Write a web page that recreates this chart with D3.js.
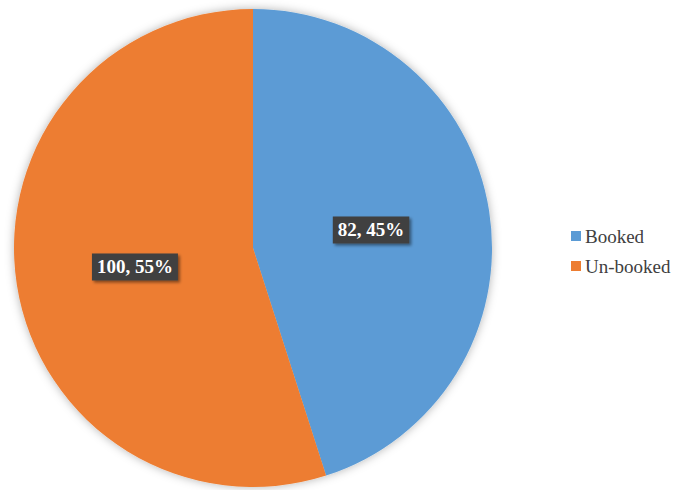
<!DOCTYPE html>
<html>
<head>
<meta charset="utf-8">
<script src="https://cdn.jsdelivr.net/npm/d3@7"></script>
<style>
  body { margin: 0; background: #fff; }
  svg { display: block; }
  text { font-family: "Liberation Serif", serif; }
</style>
</head>
<body>
<svg id="chart" width="676" height="490"></svg>
<script>
let categories = ["Booked", "Un-booked"];
let values = [82, 100];
let colors = ["#5B9BD5", "#ED7D31"];

let svg = d3.select("#chart");
let cx = 253, cy = 248, radius = 239;

let defs = svg.append("defs");
defs.append("filter").attr("id", "pieShadow")
    .attr("x", "-10%").attr("y", "-10%").attr("width", "120%").attr("height", "120%")
    .append("feDropShadow")
    .attr("dx", 0).attr("dy", 0).attr("stdDeviation", 5)
    .attr("flood-color", "#000").attr("flood-opacity", 0.3);
defs.append("filter").attr("id", "boxShadow")
    .attr("x", "-20%").attr("y", "-30%").attr("width", "150%").attr("height", "180%")
    .append("feDropShadow")
    .attr("dx", 2).attr("dy", 2).attr("stdDeviation", 1.5)
    .attr("flood-color", "#000").attr("flood-opacity", 0.45);

let total = d3.sum(values);
let data = categories.map((c, i) => ({name: c, value: values[i], color: colors[i]}));

let pie = d3.pie().sort(null).value(d => d.value);
let arc = d3.arc().innerRadius(0).outerRadius(radius);

let g = svg.append("g").attr("transform", `translate(${cx},${cy})`);

g.append("g").attr("filter", "url(#pieShadow)")
    .selectAll("path")
    .data(pie(data))
    .enter().append("path")
    .attr("d", arc)
    .attr("fill", d => d.data.color);

let labels = g.selectAll(".lbl")
    .data(pie(data))
    .enter().append("g")
    .attr("class", "lbl")
    .attr("transform", d => {
        let c = arc.centroid(d);
        return `translate(${c[0]},${c[1]})`;
    });

labels.each(function(d){
    let lg = d3.select(this);
    let txt = d.data.value + ", " + Math.round(d.data.value / total * 100) + "%";
    let t = lg.append("text")
        .attr("text-anchor", "middle")
        .attr("dy", "0.35em")
        .style("font-weight", "bold")
        .style("font-size", "19px")
        .attr("fill", "#fff")
        .text(txt);
    let bb = t.node().getBBox();
    lg.insert("rect", "text")
        .attr("x", bb.x - 5).attr("y", -13)
        .attr("width", bb.width + 10).attr("height", 27)
        .attr("fill", "#404040")
        .attr("filter", "url(#boxShadow)");
});

let legend = svg.append("g").attr("transform", "translate(571,236)");
let items = legend.selectAll("g")
    .data(data)
    .enter().append("g")
    .attr("transform", (d, i) => `translate(0,${i * 30})`);
items.append("rect")
    .attr("x", 0).attr("y", -5)
    .attr("width", 10).attr("height", 10)
    .attr("fill", d => d.color);
items.append("text")
    .attr("x", 14).attr("dy", "0.35em")
    .style("font-size", "19px")
    .attr("fill", "#404040")
    .text(d => d.name);
</script>
</body>
</html>
